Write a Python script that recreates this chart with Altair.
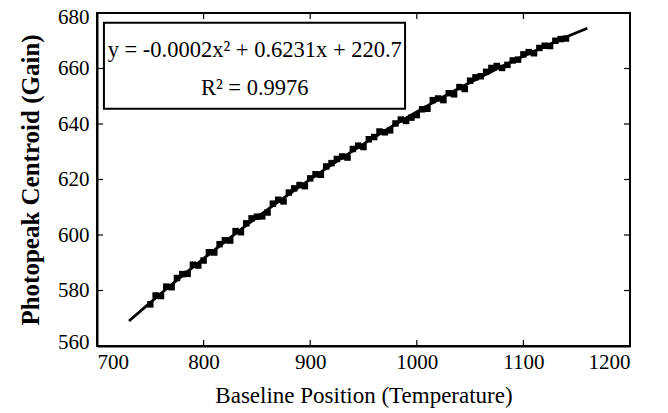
import altair as alt
import pandas as pd

baseline = [750, 755, 760, 765, 770, 775, 780, 785, 790, 795,
            800, 805, 810, 815, 820, 825, 830, 835, 840, 845,
            850, 855, 860, 865, 870, 875, 880, 885, 890, 895,
            900, 905, 910, 915, 920, 925, 930, 935, 940, 945,
            950, 955, 960, 965, 970, 975, 980, 985, 990, 995,
            1000, 1005, 1010, 1015, 1020, 1025, 1030, 1035, 1040, 1045,
            1050, 1055, 1060, 1065, 1070, 1075, 1080, 1085, 1090, 1095,
            1100, 1105, 1110, 1115, 1120, 1125, 1130, 1135, 1140]
centroid = [575.0, 578.2, 578.0, 581.4, 581.2, 584.5, 585.9, 586.0, 589.3, 589.0,
            590.8, 593.8, 593.7, 596.7, 598.1, 598.0, 601.4, 601.0, 604.2, 606.0,
            606.6, 606.7, 608.1, 611.3, 612.7, 612.1, 615.3, 616.8, 618.0, 617.6,
            620.4, 621.9, 621.7, 624.7, 625.9, 627.4, 628.3, 627.9, 631.0, 632.2,
            631.7, 634.5, 635.3, 637.3, 637.0, 637.7, 640.2, 641.6, 641.1, 642.3,
            643.2, 645.3, 645.5, 648.6, 649.2, 648.6, 651.1, 650.7, 653.3, 652.6,
            655.6, 656.8, 657.2, 658.8, 660.2, 660.9, 660.2, 661.3, 662.9, 663.2,
            665.1, 665.9, 665.5, 667.4, 668.2, 668.1, 670.0, 670.6, 670.8]

fit_extent = [730, 1160]
x_ticks = [700, 800, 900, 1000, 1100, 1200]
y_ticks = [560, 580, 600, 620, 640, 660, 680]

eq_lines = ["y = -0.0002x\u00b2 + 0.6231x + 220.7", "R\u00b2 = 0.9976"]
eq_x = [848, 848]
eq_y = [666.8, 653.0]
box_x = [706.5, 989]
box_y = [645.5, 676.5]

W, H = 533, 333
FONT = "'Liberation Serif', 'Times New Roman', Times, serif"

df = pd.DataFrame({"x": baseline, "y": centroid})

xs = alt.Scale(domain=[700, 1200], nice=False, zero=False)
ys = alt.Scale(domain=[560, 680], nice=False, zero=False)

base = alt.Chart(df)

points = base.mark_square(size=42, color="black", opacity=1).encode(
    x=alt.X("x:Q", scale=xs, title="Baseline Position (Temperature)",
            axis=alt.Axis(values=x_ticks, format="d", ticks=False, grid=False,
                          labelPadding=5, titlePadding=12)),
    y=alt.Y("y:Q", scale=ys, title="Photopeak Centroid (Gain)",
            axis=alt.Axis(values=y_ticks, format="d", ticks=False, grid=False,
                          labelPadding=8, titlePadding=14, titleFontWeight="bold",
                          titleFontSize=25,
                          labelOffset=alt.ExprRef(expr="datum.value == 680 ? 4 : (datum.value == 560 ? -4 : 0)"))),
)

fit = base.transform_regression(
    "x", "y", method="poly", order=2, extent=fit_extent
).mark_line(color="black", strokeWidth=2.8).encode(
    x=alt.X("x:Q", scale=xs), y=alt.Y("y:Q", scale=ys)
)

xt = pd.DataFrame({"t": x_ticks})
yt = pd.DataFrame({"t": y_ticks})
tick_bottom = alt.Chart(xt).mark_rule(color="black", strokeWidth=1.2).encode(
    x=alt.X("t:Q", scale=xs), y=alt.value(H), y2=alt.value(H - 6))
tick_top = alt.Chart(xt).mark_rule(color="black", strokeWidth=1.2).encode(
    x=alt.X("t:Q", scale=xs), y=alt.value(0), y2=alt.value(6))
tick_left = alt.Chart(yt).mark_rule(color="black", strokeWidth=1.2).encode(
    y=alt.Y("t:Q", scale=ys), x=alt.value(0), x2=alt.value(6))
tick_right = alt.Chart(yt).mark_rule(color="black", strokeWidth=1.2).encode(
    y=alt.Y("t:Q", scale=ys), x=alt.value(W), x2=alt.value(W - 6))

box_df = pd.DataFrame({"x1": [box_x[0]], "x2": [box_x[1]], "y1": [box_y[0]], "y2": [box_y[1]]})
box = alt.Chart(box_df).mark_rect(fill="white", stroke="black", strokeWidth=2).encode(
    x=alt.X("x1:Q", scale=xs), x2="x2:Q", y=alt.Y("y1:Q", scale=ys), y2="y2:Q")

txt_df = pd.DataFrame({"label": eq_lines, "x": eq_x, "y": eq_y})
text = alt.Chart(txt_df).mark_text(font=FONT, fontSize=22.5, color="black",
                                    align="center", baseline="middle").encode(
    x=alt.X("x:Q", scale=xs), y=alt.Y("y:Q", scale=ys), text="label:N")

chart = alt.layer(
    fit, points, tick_bottom, tick_top, tick_left, tick_right, box, text
).properties(
    width=W, height=H,
    autosize=alt.AutoSizeParams(type="none"),
    padding={"left": 89, "top": 5, "right": 20, "bottom": 67},
).configure_view(
    stroke="black", strokeWidth=2
).configure_axis(
    labelFont=FONT, titleFont=FONT, labelFontSize=21, titleFontSize=23,
    labelColor="black", titleColor="black", domainColor="black", domainWidth=2,
    titleFontWeight="normal"
)

chart.save("out.html", embed_options={"renderer": "svg", "actions": False})
